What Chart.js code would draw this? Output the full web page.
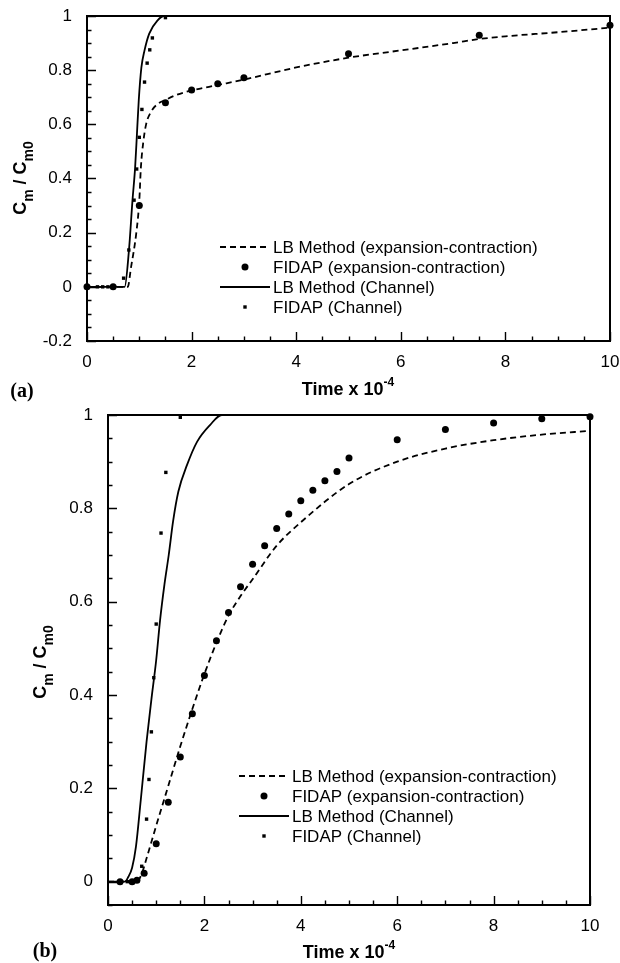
<!DOCTYPE html>
<html>
<head>
<meta charset="utf-8">
<script src="https://cdn.jsdelivr.net/npm/chart.js"></script>
<style>
  html, body { margin: 0; padding: 0; background: #fff; }
  #page { position: relative; width: 620px; height: 963px; overflow: hidden; }
  canvas { position: absolute; left: 0; }
  .t { position: absolute; font-family: "Liberation Sans", Arial, sans-serif; font-weight: bold;
       font-size: 18px; color: #000; white-space: nowrap; transform: translate(-50%, -50%); }
  .t sup { font-size: 12px; position: relative; top: -2px; }
  .t sub { font-size: 14px; position: relative; top: 2px; }
  .yt { transform: translate(-50%, -50%) rotate(-90deg); }
  .panel { position: absolute; font-family: "Liberation Serif", "Times New Roman", serif; font-weight: bold;
           font-size: 20px; transform: translate(-50%, -50%); }
</style>
</head>
<body>
<div id="page">
  <canvas id="chart-a" width="620" height="380" style="top:0"></canvas>
  <canvas id="chart-b" width="620" height="583" style="top:380px"></canvas>

  <div class="t" style="left:348px; top:388px">Time x 10<sup>-4</sup></div>
  <div class="t yt" style="left:22px; top:178px">C<sub>m</sub> / C<sub>m0</sub></div>
  <div class="panel" style="left:22px; top:390px">(a)</div>

  <div class="t" style="left:349px; top:951px">Time x 10<sup>-4</sup></div>
  <div class="t yt" style="left:42px; top:662px">C<sub>m</sub> / C<sub>m0</sub></div>
  <div class="panel" style="left:45px; top:950px">(b)</div>
</div>
<script>
// series names, same order in both panels
const seriesLabels = [
  'LB Method (expansion-contraction)',
  'FIDAP (expansion-contraction)',
  'LB Method (Channel)',
  'FIDAP (Channel)'
];

const xTicks = [0, 2, 4, 6, 8, 10];
const yTicksA = [-0.2, 0, 0.2, 0.4, 0.6, 0.8, 1];
const yTicksB = [0, 0.2, 0.4, 0.6, 0.8, 1];

// (a)
const aTimeLbExp = [0, 0.78, 0.84, 0.94, 1.0, 1.03, 1.08, 1.13, 1.22, 1.35, 1.5, 1.7, 2.0, 2.5, 3.0, 4.0, 5.0, 6.0, 7.0, 7.5, 8.0, 9.0, 10.0];
const aValLbExp  = [0, 0, 0.07, 0.195, 0.318, 0.44, 0.54, 0.6, 0.645, 0.675, 0.69, 0.708, 0.725, 0.745, 0.765, 0.81, 0.846, 0.873, 0.9, 0.915, 0.925, 0.94, 0.957];

const aTimeFidapExp = [0, 0.5, 1.0, 1.5, 2.0, 2.5, 3.0, 5.0, 7.5, 10.0];
const aValFidapExp  = [0, 0, 0.3, 0.68, 0.727, 0.75, 0.772, 0.861, 0.929, 0.966];

const aTimeLbCh = [0, 0.72, 0.8, 0.87, 0.92, 0.955, 0.99, 1.04, 1.1, 1.19, 1.35, 1.48, 10];
const aValLbCh  = [0, 0, 0.13, 0.32, 0.44, 0.565, 0.69, 0.81, 0.873, 0.935, 0.984, 1, 1];

const aTimeFidapCh = [0.2, 0.3, 0.4, 0.7, 0.8, 0.9, 0.95, 1.0, 1.05, 1.1, 1.15, 1.2, 1.25, 1.5];
const aValFidapCh  = [0, 0, 0, 0.032, 0.136, 0.32, 0.435, 0.552, 0.655, 0.756, 0.826, 0.875, 0.919, 0.994];

// (b)
const bTimeLbExp = [0, 0.6, 0.7, 0.8, 1.0, 1.25, 1.5, 1.75, 2.0, 2.25, 2.5, 2.75, 3.0, 3.5, 4.0, 5.0, 6.0, 7.0, 8.0, 9.0, 10.0];
const bValLbExp  = [0, 0, 0.017, 0.05, 0.12, 0.205, 0.29, 0.37, 0.445, 0.512, 0.57, 0.612, 0.648, 0.72, 0.77, 0.852, 0.9, 0.928, 0.946, 0.958, 0.966];

const bTimeFidapExp = [0.25, 0.5, 0.6, 0.75, 1.0, 1.25, 1.5, 1.75, 2.0, 2.25, 2.5, 2.75, 3.0, 3.25, 3.5, 3.75, 4.0, 4.25, 4.5, 4.75, 5.0, 6.0, 7.0, 8.0, 9.0, 10.0];
const bValFidapExp  = [0, 0, 0.003, 0.018, 0.081, 0.17, 0.267, 0.36, 0.442, 0.516, 0.577, 0.632, 0.68, 0.72, 0.757, 0.788, 0.816, 0.839, 0.859, 0.879, 0.908, 0.947, 0.969, 0.983, 0.992, 0.996];

const bTimeLbCh = [0, 0.35, 0.42, 0.5, 0.58, 0.68, 0.8, 0.9, 1.0, 1.08, 1.17, 1.26, 1.35, 1.46, 1.64, 1.85, 2.12, 2.36, 10];
const bValLbCh  = [0, 0, 0.01, 0.03, 0.075, 0.175, 0.3, 0.39, 0.475, 0.56, 0.636, 0.70, 0.772, 0.836, 0.893, 0.943, 0.979, 1, 1];

const bTimeFidapCh = [0.4, 0.7, 0.8, 0.85, 0.9, 0.95, 1.0, 1.1, 1.2, 1.5];
const bValFidapCh  = [0, 0.033, 0.134, 0.219, 0.321, 0.437, 0.552, 0.747, 0.877, 0.995];

Chart.defaults.font.family = '"Liberation Sans", Arial, sans-serif';
Chart.defaults.color = '#000';

const pts = (xs, ys) => xs.map((x, i) => ({ x: x, y: ys[i] }));

function lineSet(label, xs, ys, dash) {
  return {
    label: label,
    data: pts(xs, ys),
    borderColor: '#000',
    borderWidth: 1.8,
    borderDash: dash,
    pointRadius: 0,
    cubicInterpolationMode: 'monotone',
    fill: false,
    clip: false
  };
}

function dotSet(label, xs, ys, style, r) {
  return {
    label: label,
    data: pts(xs, ys),
    showLine: false,
    pointStyle: style,
    pointRadius: r,
    pointBorderWidth: 0,
    backgroundColor: '#000',
    borderColor: '#000',
    clip: false
  };
}

// box, inward major/minor ticks
const frame = {
  id: 'frame',
  afterDatasetsDraw(chart, args, opts) {
    const { ctx, chartArea: a, scales: { x, y } } = chart;
    ctx.save();
    ctx.strokeStyle = '#000';
    ctx.lineWidth = 1.4;
    ctx.beginPath();
    const nx = Math.round((x.max - x.min) / opts.xMinor);
    for (let i = 0; i <= nx; i++) {
      const v = x.min + i * opts.xMinor;
      const len = xTicks.some(t => Math.abs(t - v) < 1e-6) ? 9 : 4.5;
      const px = Math.round(x.getPixelForValue(v)) + 0.5;
      ctx.moveTo(px, a.bottom);
      ctx.lineTo(px, a.bottom - len);
    }
    const start = Math.ceil(y.min / opts.yMinor - 1e-6);
    const end = Math.floor(y.max / opts.yMinor + 1e-6);
    for (let i = start; i <= end; i++) {
      const v = i * opts.yMinor;
      const len = opts.yTicks.some(t => Math.abs(t - v) < 1e-6) ? 9 : 4.5;
      const py = Math.round(y.getPixelForValue(v)) + 0.5;
      ctx.moveTo(a.left, py);
      ctx.lineTo(a.left + len, py);
    }
    ctx.stroke();
    ctx.lineWidth = 2;
    ctx.strokeRect(a.left, a.top, a.right - a.left, a.bottom - a.top);
    ctx.restore();
  }
};

// legend drawn inside the plot area
const innerLegend = {
  id: 'innerLegend',
  afterDatasetsDraw(chart, args, opts) {
    const { ctx, chartArea: a } = chart;
    ctx.save();
    ctx.font = '17px "Liberation Sans", Arial, sans-serif';
    ctx.fillStyle = '#000';
    ctx.strokeStyle = '#000';
    ctx.textBaseline = 'middle';
    chart.data.datasets.forEach((ds, i) => {
      const x0 = a.left + opts.left;
      const yy = a.top + opts.top + i * opts.rowGap;
      const mid = x0 + opts.sample / 2;
      if (ds.showLine !== false) {
        ctx.lineWidth = ds.borderWidth;
        ctx.setLineDash(ds.borderDash || []);
        ctx.beginPath();
        ctx.moveTo(x0, yy);
        ctx.lineTo(x0 + opts.sample, yy);
        ctx.stroke();
        ctx.setLineDash([]);
      } else if (ds.pointStyle === 'circle') {
        ctx.beginPath();
        ctx.arc(mid, yy, ds.pointRadius, 0, Math.PI * 2);
        ctx.fill();
      } else {
        const s = ds.pointRadius * Math.SQRT2;
        ctx.fillRect(mid - s / 2, yy - s / 2, s, s);
      }
      ctx.fillText(ds.label, x0 + opts.sample + 3, yy + 1);
    });
    ctx.restore();
  }
};

function makeChart(id, sets, yMin, yTicks, pad, yWidth, xHeight, legendPos) {
  return new Chart(document.getElementById(id), {
    type: 'line',
    data: { datasets: sets },
    options: {
      responsive: false,
      animation: false,
      layout: { padding: pad },
      plugins: {
        legend: { display: false },
        tooltip: { enabled: false },
        frame: { xMinor: 0.5, yMinor: 0.05, yTicks: yTicks },
        innerLegend: legendPos
      },
      scales: {
        x: {
          type: 'linear',
          min: 0,
          max: 10,
          grid: { display: false },
          border: { display: false },
          afterBuildTicks: s => { s.ticks = xTicks.map(v => ({ value: v })); },
          // fixed height, no label overflow into the side padding
          afterFit: s => { s.height = xHeight; s.paddingLeft = 0; s.paddingRight = 0; },
          ticks: { padding: 3, font: { size: 17 }, callback: v => String(v) }
        },
        y: {
          type: 'linear',
          min: yMin,
          max: 1,
          grid: { display: false },
          border: { display: false },
          afterBuildTicks: s => { s.ticks = yTicks.map(v => ({ value: v })); },
          afterFit: s => { s.width = yWidth; s.paddingTop = 0; s.paddingBottom = 0; },
          ticks: { padding: 7, font: { size: 17 }, callback: v => String(v) }
        }
      }
    },
    plugins: [frame, innerLegend]
  });
}

makeChart('chart-a', [
  lineSet(seriesLabels[0], aTimeLbExp, aValLbExp, [6, 4]),
  dotSet(seriesLabels[1], aTimeFidapExp, aValFidapExp, 'circle', 3.5),
  lineSet(seriesLabels[2], aTimeLbCh, aValLbCh, []),
  dotSet(seriesLabels[3], aTimeFidapCh, aValFidapCh, 'rect', 2.4)
], -0.2, yTicksA, { left: 0, right: 10, top: 16, bottom: 0 }, 87, 39,
  { left: 133, top: 231, rowGap: 20, sample: 50 });

makeChart('chart-b', [
  lineSet(seriesLabels[0], bTimeLbExp, bValLbExp, [6, 4]),
  dotSet(seriesLabels[1], bTimeFidapExp, bValFidapExp, 'circle', 3.5),
  lineSet(seriesLabels[2], bTimeLbCh, bValLbCh, []),
  dotSet(seriesLabels[3], bTimeFidapCh, bValFidapCh, 'rect', 2.4)
], -0.05, yTicksB, { left: 0, right: 30, top: 35, bottom: 0 }, 108, 58,
  { left: 131, top: 361, rowGap: 20, sample: 50 });
</script>
</body>
</html>
